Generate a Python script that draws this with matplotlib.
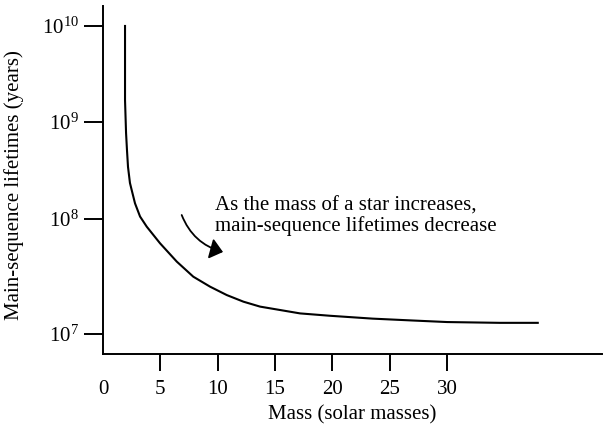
import numpy as np
import matplotlib
matplotlib.use("Agg")
import matplotlib.pyplot as plt

# curve
mass = [1.92, 1.92, 1.92, 2.01, 2.09, 2.18, 2.35, 2.50, 2.79, 3.23, 3.81, 4.97, 6.43,
        7.87, 9.33, 10.79, 12.24, 13.69, 17.18, 19.8, 23.5, 27.0, 30.0, 34.6, 37.9]
lifetime = [1.0e10, 4.43e9, 1.69e9, 7.7e8, 5.14e8, 3.44e8, 2.35e8, 1.99e8, 1.45e8, 1.06e8,
            8.58e7, 6.15e7, 4.26e7, 3.15e7, 2.58e7, 2.18e7, 1.91e7, 1.73e7, 1.51e7, 1.44e7,
            1.36e7, 1.31e7, 1.27e7, 1.25e7, 1.25e7]

xticks = [0, 5, 10, 15, 20, 25, 30]
yticks = [1e7, 1e8, 1e9, 1e10]
ytick_labels = [r"$10^{7}$", r"$10^{8}$", r"$10^{9}$", r"$10^{10}$"]

# the drawn decades are not evenly spaced, so the log axis is bent a bit
log_knots = [6, 7, 8, 9, 10, 11]
pos_knots = [-115, 0, 115, 212, 308, 404]


def forward(y):
    y = np.asarray(y, dtype=float)
    return np.interp(np.log10(np.clip(y, 1e-300, None)), log_knots, pos_knots)


def inverse(v):
    return 10 ** np.interp(v, pos_knots, log_knots)


plt.rcParams["font.family"] = "Liberation Serif"
plt.rcParams["mathtext.fontset"] = "custom"
plt.rcParams["mathtext.rm"] = "Liberation Serif"
plt.rcParams["mathtext.it"] = "Liberation Serif:italic"
plt.rcParams["font.size"] = 15

fig = plt.figure(figsize=(6.08, 4.26), dpi=100)
ax = fig.add_axes([103 / 608, 1 - 354 / 426, 499 / 608, 348 / 426])

ax.plot(mass, lifetime, color="black", lw=1.5)

ax.set_yscale("function", functions=(forward, inverse))
ax.set_xlim(0, 43.5)
ax.set_ylim(10 ** 6.826, 10 ** 10.208)

ax.set_yticks(yticks)
ax.set_yticklabels(ytick_labels)
ax.yaxis.set_minor_locator(matplotlib.ticker.NullLocator())
ax.set_xticks(xticks)
ax.set_xticklabels([str(t) for t in xticks])
ax.xaxis.get_major_ticks()[0].tick1line.set_visible(False)

ax.tick_params(axis="x", direction="out", length=12, width=1.4, pad=7)
ax.tick_params(axis="y", direction="out", length=13.5, width=1.4, pad=4)

for side in ["top", "right"]:
    ax.spines[side].set_visible(False)
for side in ["left", "bottom"]:
    ax.spines[side].set_linewidth(1.4)

ax.set_xlabel("Mass (solar masses)", labelpad=4.5)
ax.set_ylabel("Main-sequence lifetimes (years)")
ax.yaxis.set_label_coords(-0.158, 0.486)

ax.text(0.2245, 0.453, "As the mass of a star increases,\nmain-sequence lifetimes decrease",
        transform=ax.transAxes, ha="left", va="top", linespacing=1.05)
ax.annotate("", xy=(0.2405, 0.2931), xytext=(0.1577, 0.3994),
            xycoords="axes fraction", textcoords="axes fraction",
            arrowprops=dict(arrowstyle="-|>,head_length=0.55,head_width=0.45",
                            connectionstyle="arc3,rad=0.25", color="black",
                            lw=1.3, mutation_scale=14, shrinkA=0, shrinkB=0))

fig.savefig("out.png", dpi=100)
